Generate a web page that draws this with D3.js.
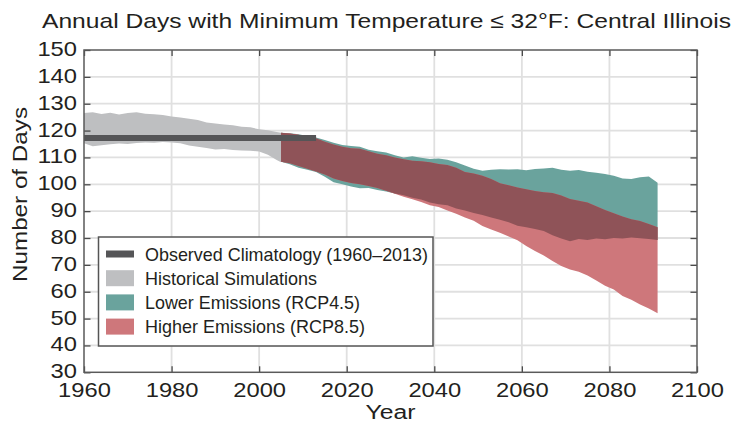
<!DOCTYPE html>
<html>
<head>
<meta charset="utf-8">
<script src="https://cdn.jsdelivr.net/npm/d3@7"></script>
<style>
  body { margin: 0; background: #fff; }
  svg { display: block; font-family: "Liberation Sans", Arial, sans-serif; }
  text { fill: #231f20; }
</style>
</head>
<body>
<svg width="734" height="424"></svg>
<script>
const width = 734;
const height = 424;
const svg = d3.select('svg');

// data
const histYears = [1960, 1962, 1964, 1966, 1968, 1970, 1972, 1974, 1976, 1978, 1980, 1982,
                   1984, 1986, 1988, 1990, 1992, 1994, 1996, 1998, 2000, 2002, 2004, 2005];
const histUpper = [126.5, 126.8, 126.2, 126.6, 126.0, 126.5, 126.8, 126.3, 126.1, 125.8, 125.2, 124.9,
                   124.4, 123.9, 123.0, 122.6, 122.3, 122.0, 121.4, 121.2, 120.5, 120.1, 119.5, 119.2];
const histLower = [115.3, 114.2, 114.5, 114.9, 115.2, 115.0, 115.4, 115.6, 115.5, 115.7, 115.6, 115.3,
                   114.4, 114.0, 113.5, 113.0, 113.1, 112.8, 112.6, 112.5, 112.2, 111.0, 109.0, 108.2];

const projYears = d3.range(2005, 2092, 2);
const rcp45Upper = [119.2, 119.0, 118.6, 118.0, 117.4, 116.5, 115.5, 114.6, 114.3, 114.0, 112.9, 112.3,
                    111.8, 110.8, 110.0, 110.4, 109.9, 109.4, 109.6, 109.1, 108.2, 107.0, 105.8, 105.0,
                    105.4, 105.6, 105.5, 105.6, 105.2, 105.7, 105.9, 106.2, 105.4, 105.0, 105.3, 104.7,
                    104.3, 103.8, 103.2, 102.2, 102.0, 102.6, 102.9, 100.6];
const rcp45Lower = [108.4, 107.5, 106.2, 105.4, 104.6, 102.8, 100.8, 100.0, 99.2, 98.5, 98.6, 97.9,
                    97.3, 96.6, 95.9, 95.0, 94.3, 93.2, 92.6, 92.2, 91.0, 90.2, 89.3, 88.6,
                    87.6, 86.8, 85.9, 84.6, 84.0, 83.4, 82.6, 81.0, 79.8, 78.8, 79.6, 79.3,
                    79.8, 79.5, 80.0, 79.8, 80.2, 79.9, 79.6, 79.3];
const rcp85Upper = [119.2, 118.9, 118.4, 117.8, 117.1, 115.8, 114.8, 114.0, 113.4, 113.2, 112.3, 111.4,
                    110.8, 110.0, 109.3, 108.8, 108.6, 108.2, 107.6, 107.2, 106.2, 104.6, 104.0, 103.2,
                    102.0, 100.4, 99.6, 98.8, 98.2, 97.5, 97.0, 96.8, 95.8, 94.5, 93.9, 93.2,
                    91.8, 90.4, 89.2, 88.0, 87.0, 86.3, 85.2, 84.0];
const rcp85Lower = [108.4, 107.8, 106.8, 105.8, 104.8, 103.6, 102.2, 101.2, 100.5, 100.0, 99.4, 98.6,
                    97.6, 96.5, 95.4, 94.4, 93.4, 92.2, 91.5, 90.2, 89.0, 87.6, 86.4, 84.5,
                    83.2, 82.0, 80.6, 79.2, 77.0, 75.2, 73.5, 71.4, 69.6, 68.3, 67.4, 66.0,
                    64.2, 62.2, 60.8, 58.4, 57.0, 55.2, 53.8, 52.0];

const observedYears = [1960, 2013];
const observedValue = 117.2;

const xTicks = [1960, 1980, 2000, 2020, 2040, 2060, 2080, 2100];
const yTicks = [30, 40, 50, 60, 70, 80, 90, 100, 110, 120, 130, 140, 150];

const legendLabels = ['Observed Climatology (1960\u20132013)', 'Historical Simulations',
                      'Lower Emissions (RCP4.5)', 'Higher Emissions (RCP8.5)'];

const colors = { observed: '#555557', hist: '#bebfc1', low: '#6aa39d', high: '#ce777b', both: '#8f5358' };

// scales
const plotLeft = 84, plotRight = 697, plotTop = 50, plotBottom = 372.3;
const xScale = d3.scaleLinear().domain([1960, 2100]).range([plotLeft, plotRight]);
const yScale = d3.scaleLinear().domain([30, 150]).range([plotBottom, plotTop]);

// helper: squeeze / stretch text to a measured width
function fit(sel, w) {
  sel.attr('textLength', w).attr('lengthAdjust', 'spacingAndGlyphs');
}

//Title
svg.append('text').attr('x', 42).attr('y', 28.3)
   .style('font-size', '21px')
   .text('Annual Days with Minimum Temperature \u2264 32\u00b0F: Central Illinois')
   .call(fit, 689);

//Grid
svg.append('g').selectAll('line').data(xTicks.slice(1, -1)).enter().append('line')
   .attr('x1', d => xScale(d)).attr('x2', d => xScale(d))
   .attr('y1', plotTop).attr('y2', plotBottom)
   .attr('stroke', '#e0e0e0').attr('stroke-width', 1.8);
svg.append('g').selectAll('line').data(yTicks.slice(1, -1)).enter().append('line')
   .attr('y1', d => yScale(d)).attr('y2', d => yScale(d))
   .attr('x1', plotLeft).attr('x2', plotRight)
   .attr('stroke', '#e0e0e0').attr('stroke-width', 1.8);

//Bands
const band = d3.area().x(d => xScale(d.year)).y0(d => yScale(d.lo)).y1(d => yScale(d.hi));

const hist = histYears.map((year, i) => ({ year, lo: histLower[i], hi: histUpper[i] }));
const low = projYears.map((year, i) => ({ year, lo: rcp45Lower[i], hi: rcp45Upper[i] }));
const high = projYears.map((year, i) => ({ year, lo: rcp85Lower[i], hi: rcp85Upper[i] }));
const both = projYears.map((year, i) => ({
  year,
  lo: Math.max(rcp45Lower[i], rcp85Lower[i]),
  hi: Math.min(rcp45Upper[i], rcp85Upper[i])
}));

svg.append('path').datum(hist).attr('d', band).attr('fill', colors.hist);
svg.append('path').datum(low).attr('d', band).attr('fill', colors.low);
svg.append('path').datum(high).attr('d', band).attr('fill', colors.high);
svg.append('path').datum(both).attr('d', band).attr('fill', colors.both);

//Observed climatology
svg.append('line')
   .attr('x1', xScale(observedYears[0])).attr('x2', xScale(observedYears[1]))
   .attr('y1', yScale(observedValue)).attr('y2', yScale(observedValue))
   .attr('stroke', colors.observed).attr('stroke-width', 6);

//Axes (ticks pointing inward, mirrored on top and right)
const xAxis = d3.axisBottom(xScale).tickValues(xTicks).tickFormat(d3.format('d'))
                .tickSizeInner(-6).tickSizeOuter(0).tickPadding(10);
const yAxis = d3.axisLeft(yScale).tickValues(yTicks)
                .tickSizeInner(-6.5).tickSizeOuter(0).tickPadding(7);
const xAxisTop = d3.axisTop(xScale).tickValues(xTicks).tickFormat('').tickSizeInner(-6).tickSizeOuter(0);
const yAxisRight = d3.axisRight(yScale).tickValues(yTicks).tickFormat('').tickSizeInner(-6.5).tickSizeOuter(0);

const gx = svg.append('g').attr('transform', `translate(0, ${plotBottom})`).call(xAxis);
const gy = svg.append('g').attr('transform', `translate(${plotLeft}, 0)`).call(yAxis);
svg.append('g').attr('transform', `translate(0, ${plotTop})`).call(xAxisTop);
svg.append('g').attr('transform', `translate(${plotRight}, 0)`).call(yAxisRight);

svg.selectAll('.domain').remove();
svg.selectAll('.tick line').attr('stroke', '#4a4a4a').attr('stroke-width', 1.3);
gy.selectAll('text').attr('dy', '0.26em');
[gx, gy].forEach(g => g.selectAll('text')
  .style('font-size', '21px').style('font-family', '"Liberation Sans", Arial, sans-serif')
  .attr('fill', '#231f20')
  .each(function () { fit(d3.select(this), 13.2 * this.textContent.length); }));

//Frame
svg.append('rect').attr('x', plotLeft).attr('y', plotTop)
   .attr('width', plotRight - plotLeft).attr('height', plotBottom - plotTop)
   .attr('fill', 'none').attr('stroke', '#5a5a5a').attr('stroke-width', 1.5);

//Axis titles
svg.append('text').attr('x', (plotLeft + plotRight) / 2).attr('y', 419)
   .style('text-anchor', 'middle').style('font-size', '20px')
   .text('Year').call(fit, 50);

svg.append('text').attr('transform', 'translate(26.7, 194.5) rotate(-90)')
   .style('text-anchor', 'middle').style('font-size', '20px')
   .text('Number of Days').call(fit, 175);

//Legend
const legend = svg.append('g');
legend.append('rect').attr('x', 98.5).attr('y', 237)
      .attr('width', 334.5).attr('height', 109)
      .attr('fill', '#fff').attr('stroke', '#555').attr('stroke-width', 1.5);

const legendWidths = [283, 172, 215, 220];
const legendColors = [colors.observed, colors.hist, colors.low, colors.high];
const rowY = i => 254 + i * 24.2;

legend.selectAll('rect.swatch').data(legendLabels).enter().append('rect')
      .attr('class', 'swatch')
      .attr('x', 106).attr('width', 28)
      .attr('y', (d, i) => rowY(i) - (i === 0 ? 3.5 : 8))
      .attr('height', (d, i) => i === 0 ? 7 : 16)
      .attr('fill', (d, i) => legendColors[i]);

legend.selectAll('text').data(legendLabels).enter().append('text')
      .attr('x', 145).attr('y', (d, i) => rowY(i) + 6.8)
      .style('font-size', '19px')
      .text(d => d)
      .each(function (d, i) { fit(d3.select(this), legendWidths[i]); });
</script>
</body>
</html>
